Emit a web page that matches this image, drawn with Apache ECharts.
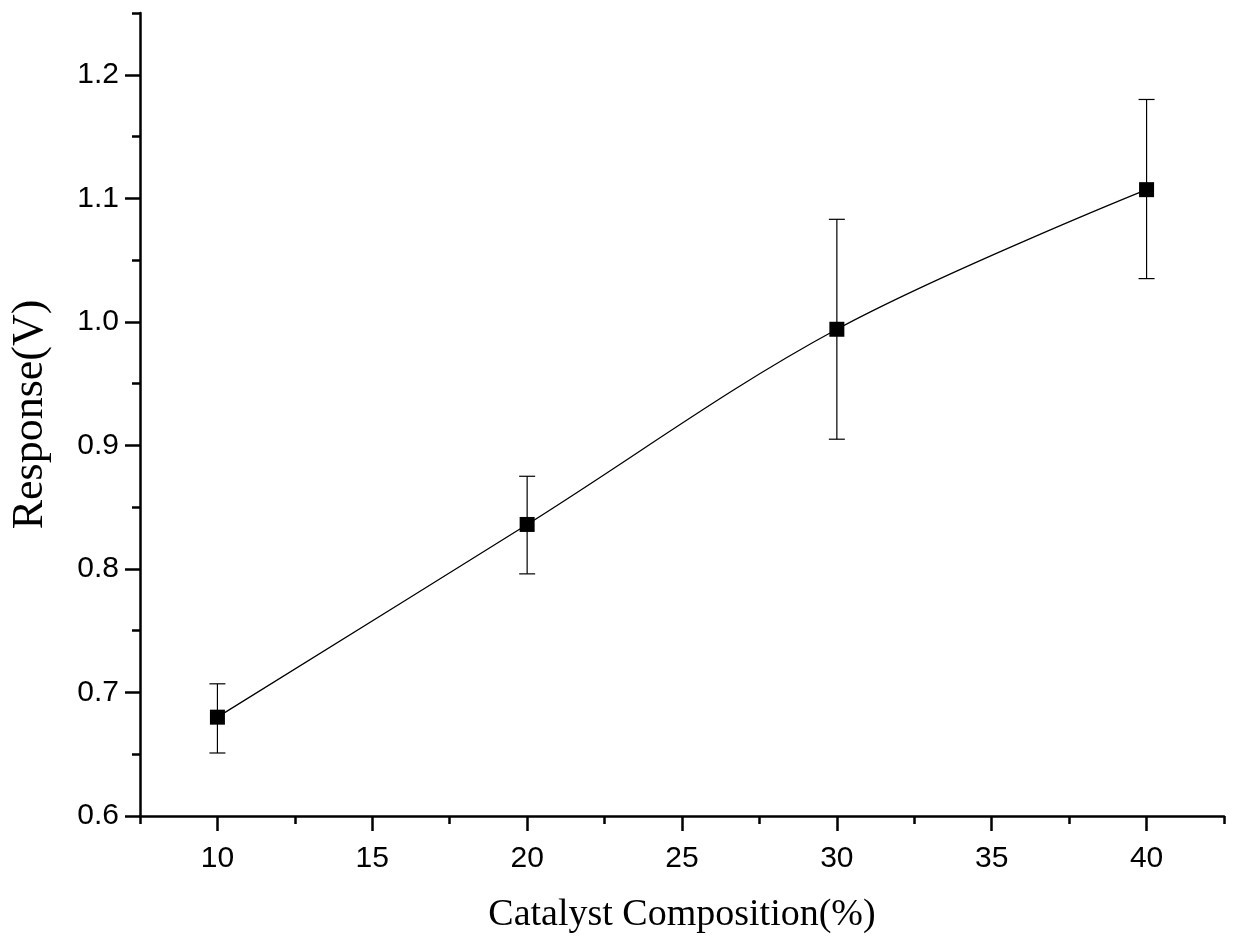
<!DOCTYPE html>
<html>
<head>
<meta charset="utf-8">
<style>
html,body{margin:0;padding:0;background:#fff;}
#chart{width:1233px;height:940px;}
</style>
<script src="https://cdn.jsdelivr.net/npm/echarts@6/dist/echarts.min.js"></script>
</head>
<body>
<div id="chart"></div>
<script>
var composition = [10, 20, 30, 40];
var response = [0.680, 0.836, 0.994, 1.107];
var errLow = [0.651, 0.796, 0.905, 1.035];
var errHigh = [0.707, 0.875, 1.083, 1.180];
var xMajorTicks = [10, 15, 20, 25, 30, 35, 40];
var xMinorTicks = [7.5, 12.5, 17.5, 22.5, 27.5, 32.5, 37.5, 42.5];
var yMajorTicks = [0.6, 0.7, 0.8, 0.9, 1.0, 1.1, 1.2];
var yMinorTicks = [0.65, 0.75, 0.85, 0.95, 1.05, 1.15, 1.25];

var chart = echarts.init(document.getElementById('chart'), null, {renderer: 'canvas'});
var lineData = composition.map(function (x, i) { return [x, response[i]]; });
var errData = composition.map(function (x, i) { return [x, errLow[i], errHigh[i]]; });

var labelFont = {fontFamily: 'Liberation Sans', fontSize: 30, color: '#000'};
var nameFont = {fontFamily: 'Liberation Serif', color: '#000'};

var option = {
  animation: false,
  backgroundColor: '#fff',
  grid: {left: 140, right: 9, top: 13, bottom: 124, containLabel: false},
  xAxis: [{
    type: 'value', min: 7.5, max: 42.5, position: 'bottom',
    name: 'Catalyst Composition(%)', nameLocation: 'middle', nameGap: 80,
    nameTextStyle: Object.assign({fontSize: 38}, nameFont),
    axisLine: {show: true, onZero: false, lineStyle: {color: '#000', width: 2.5}},
    axisTick: {show: true, inside: false, length: 15, customValues: xMajorTicks, lineStyle: {color: '#000', width: 2.5}},
    axisLabel: Object.assign({show: true, margin: 28, customValues: xMajorTicks}, labelFont),
    splitLine: {show: false}
  }, {
    type: 'value', min: 7.5, max: 42.5, position: 'bottom',
    axisLine: {show: false, onZero: false},
    axisTick: {show: true, inside: false, length: 8, customValues: xMinorTicks, lineStyle: {color: '#000', width: 2.5}},
    axisLabel: {show: false},
    splitLine: {show: false}
  }],
  yAxis: [{
    type: 'value', min: 0.6, max: 1.25, position: 'left',
    name: 'Response(V)', nameLocation: 'middle', nameGap: 88, nameRotate: 90,
    nameTextStyle: Object.assign({fontSize: 44}, nameFont),
    axisLine: {show: true, onZero: false, lineStyle: {color: '#000', width: 2.5}},
    axisTick: {show: true, inside: false, length: 15, customValues: yMajorTicks, lineStyle: {color: '#000', width: 2.5}},
    axisLabel: Object.assign({show: true, margin: 21, customValues: yMajorTicks,
      formatter: function (v) { return Number(v).toFixed(1); }}, labelFont),
    splitLine: {show: false}
  }, {
    type: 'value', min: 0.6, max: 1.25, position: 'left',
    axisLine: {show: false, onZero: false},
    axisTick: {show: true, inside: false, length: 8, customValues: yMinorTicks, lineStyle: {color: '#000', width: 2.5}},
    axisLabel: {show: false},
    splitLine: {show: false}
  }],
  series: [{
    type: 'custom',
    xAxisIndex: 0, yAxisIndex: 0,
    data: errData,
    z: 1,
    renderItem: function (params, api) {
      var x = api.value(0);
      var lo = api.coord([x, api.value(1)]);
      var hi = api.coord([x, api.value(2)]);
      var hw = 8;
      var st = {stroke: '#000', lineWidth: 1.2, fill: null};
      return {
        type: 'group',
        children: [
          {type: 'line', shape: {x1: lo[0], y1: lo[1], x2: hi[0], y2: hi[1]}, style: st},
          {type: 'line', shape: {x1: lo[0] - hw, y1: lo[1], x2: lo[0] + hw, y2: lo[1]}, style: st},
          {type: 'line', shape: {x1: hi[0] - hw, y1: hi[1], x2: hi[0] + hw, y2: hi[1]}, style: st}
        ]
      };
    }
  }, {
    type: 'line',
    xAxisIndex: 0, yAxisIndex: 0,
    data: lineData,
    smooth: 0.35,
    z: 2,
    symbol: 'rect',
    symbolSize: 15,
    showSymbol: true,
    itemStyle: {color: '#000'},
    lineStyle: {color: '#000', width: 1.3}
  }]
};
chart.setOption(option);
</script>
</body>
</html>
